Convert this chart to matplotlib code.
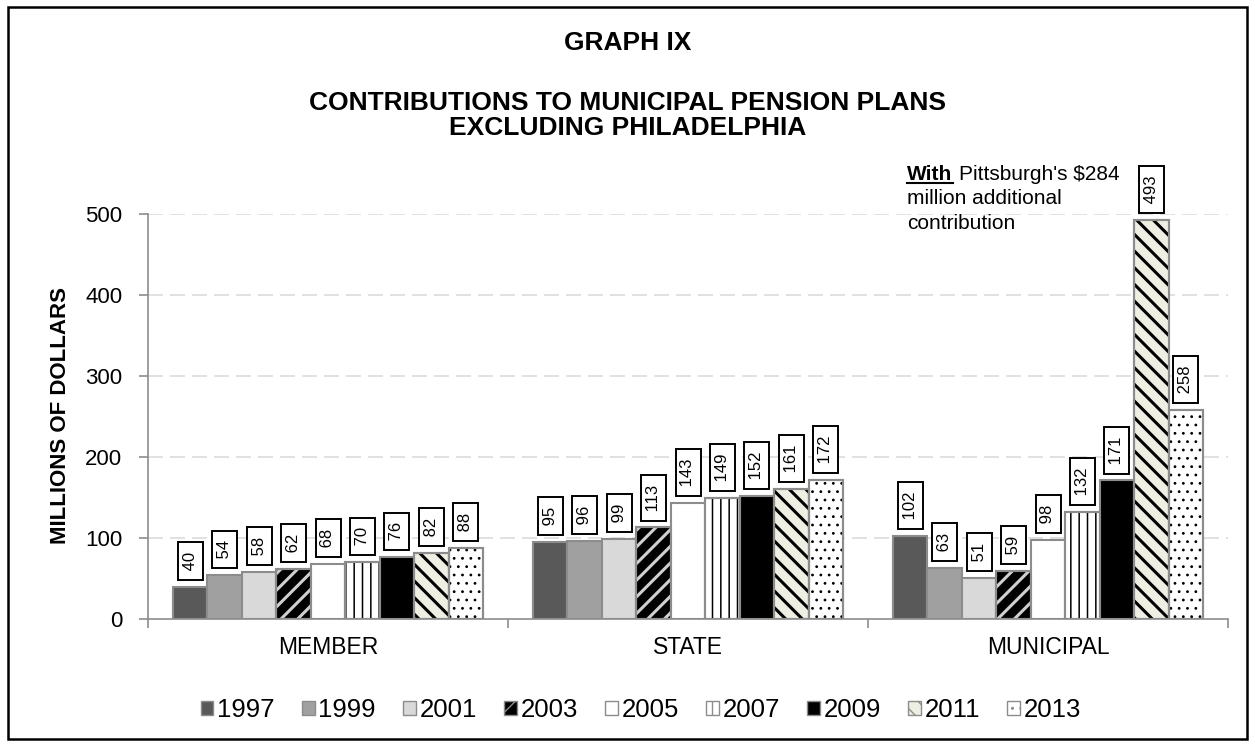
import numpy as np
import matplotlib
matplotlib.use("Agg")
import matplotlib.pyplot as plt
from matplotlib.patches import Rectangle, Patch
from matplotlib.lines import Line2D
from matplotlib.colors import to_rgba

plt.rcParams['font.family'] = ['Liberation Sans', 'DejaVu Sans']

# data
categories = ["MEMBER", "STATE", "MUNICIPAL"]
years = ["1997", "1999", "2001", "2003", "2005", "2007", "2009", "2011", "2013"]
member = [40, 54, 58, 62, 68, 70, 76, 82, 88]
state = [95, 96, 99, 113, 143, 149, 152, 161, 172]
municipal = [102, 63, 51, 59, 98, 132, 171, 493, 258]
yticks = [0, 100, 200, 300, 400, 500]

values = np.array([member, state, municipal])

# face, hatch, hatch colour, hatch linewidth
styles = [
    ("#595959", None, None, 0),
    ("#a0a0a0", None, None, 0),
    ("#d9d9d9", None, None, 0),
    ("#000000", "//", "#d0d0d0", 2.2),
    ("#ffffff", None, None, 0),
    ("#ffffff", "||", "#000000", 1.1),
    ("#000000", None, None, 0),
    ("#efeee2", "\\\\", "#000000", 2.2),
    ("#ffffff", "..", "#000000", 0.8),
]
EDGE = "#8c8c8c"


def style_patch(p, hatch, hc, hlw):
    p.set_hatch(hatch)
    p._hatch_color = to_rgba(hc)
    if hasattr(p, "set_hatch_linewidth"):
        p.set_hatch_linewidth(hlw)


fig = plt.figure(figsize=(12.55, 7.46), dpi=100)
W, H = 1255.0, 746.0
ax = fig.add_axes([148 / W, 1 - 619 / H, 1080 / W, 405 / H])

n = len(years)
group_w = 0.861
bw = group_w / n
x = np.arange(len(categories)) + 0.5

for i in range(n):
    face, hatch, hc, hlw = styles[i]
    pos = x - group_w / 2 + bw * (i + 0.5)
    with plt.rc_context({"hatch.linewidth": hlw if hatch else 1.0}):
        bars = ax.bar(pos, values[:, i], width=bw, color=face, edgecolor=EDGE,
                      linewidth=1.5, zorder=3)
        if hatch:
            for b in bars:
                style_patch(b, hatch, hc, hlw)
    if hatch:
        ax.bar(pos, values[:, i], width=bw, fill=False, edgecolor=EDGE,
               linewidth=1.5, zorder=4)
    for xp, v in zip(pos, values[:, i]):
        ax.annotate(" %d " % v, (xp, v), xytext=(0, 8.6), textcoords="offset points",
                    rotation=90, ha="center", va="bottom", fontsize=12, zorder=6,
                    bbox=dict(boxstyle="square,pad=0.3", fc="white", ec="black", lw=1.4))

ax.set_xlim(0, 3)
ax.set_ylim(0, 500)
ax.set_yticks(yticks)
ax.set_yticklabels([str(t) for t in yticks], fontsize=16)
ax.tick_params(axis="y", length=6.5, color=EDGE, width=1.2, pad=12)
ax.set_xticks([0, 1, 2, 3])
ax.set_xticklabels([])
ax.set_xticks(x, minor=True)
ax.set_xticklabels(categories, minor=True, fontsize=16.5)
ax.tick_params(axis="x", which="major", length=6.5, color=EDGE, width=1.2)
ax.tick_params(axis="x", which="minor", length=0, pad=12)

for t in yticks[1:]:
    ax.axhline(t, color="#d9d9d9", lw=1.1, dashes=(9.8, 4.6), zorder=1)

for s in ["top", "right"]:
    ax.spines[s].set_visible(False)
for s in ["left", "bottom"]:
    ax.spines[s].set_color(EDGE)
    ax.spines[s].set_linewidth(1.2)

fig.text(60 / W, 1 - 416 / H, "MILLIONS OF DOLLARS", rotation=90, ha="center", va="center",
         fontsize=16, fontweight="bold")

fig.text(0.5, 1 - 43 / H, "GRAPH IX", ha="center", va="center", fontsize=19, fontweight="bold")
fig.text(0.5, 1 - 103 / H, "CONTRIBUTIONS TO MUNICIPAL PENSION PLANS",
         ha="center", va="center", fontsize=19, fontweight="bold")
fig.text(0.5, 1 - 128 / H, "EXCLUDING PHILADELPHIA",
         ha="center", va="center", fontsize=19, fontweight="bold")

# note on the 2011 municipal bar
nx = 907 / W
fig.text(nx, 1 - 180 / H, "With", ha="left", va="baseline", fontsize=15, fontweight="bold")
fig.text(959 / W, 1 - 180 / H, "Pittsburgh's $284", ha="left", va="baseline", fontsize=15)
fig.text(nx, 1 - 204.5 / H, "million additional", ha="left", va="baseline", fontsize=15)
fig.text(nx, 1 - 229 / H, "contribution", ha="left", va="baseline", fontsize=15)
fig.add_artist(Line2D([nx, 953 / W], [1 - 183 / H, 1 - 183 / H],
                      color="black", lw=1.5, transform=fig.transFigure))

# legend
handles = []
for face, hatch, hc, hlw in styles:
    handles.append(Patch(facecolor=face, edgecolor=EDGE, hatch=hatch, linewidth=1.0))
fig.legend(handles, years, loc="center", bbox_to_anchor=(641 / W, 1 - 710 / H),
           ncol=9, frameon=False, handlelength=0.5, handleheight=0.5,
           handletextpad=0.15, columnspacing=1.05, prop={"size": 18.5})

fig.add_artist(Rectangle((8 / W, 7 / H), 1239 / W, 732 / H, transform=fig.transFigure,
                         fill=False, ec="black", lw=1.8))

fig.savefig("out.png", dpi=100)
